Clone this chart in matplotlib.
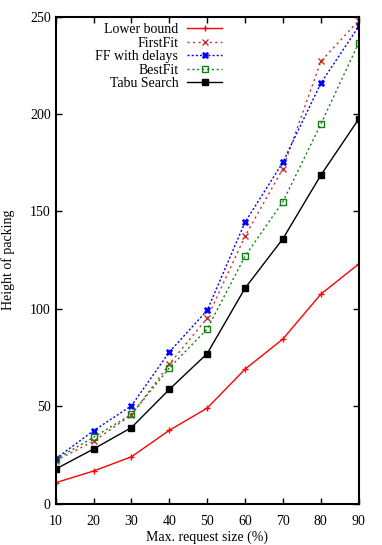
import matplotlib
matplotlib.use("Agg")
import matplotlib.pyplot as plt

plt.rcParams['font.family'] = ['Liberation Serif', 'DejaVu Serif']
plt.rcParams['font.size'] = 10

x = [10, 20, 30, 40, 50, 60, 70, 80, 90]
lower_bound = [10.7, 16.7, 24.0, 37.6, 49.0, 69.0, 84.5, 107.5, 123.0]
first_fit = [22.0, 32.0, 45.5, 71.6, 95.2, 137.3, 172.0, 227.0, 248.0]
ff_delays = [23.0, 37.4, 50.2, 77.8, 99.2, 144.5, 175.3, 215.8, 245.0]
best_fit = [22.7, 34.0, 45.8, 69.6, 89.6, 127.0, 155.0, 194.8, 236.5]
tabu = [17.7, 28.0, 39.0, 58.6, 77.0, 110.6, 136.0, 168.6, 197.4]

xticks = [10, 20, 30, 40, 50, 60, 70, 80, 90]
yticks = [0, 50, 100, 150, 200, 250]

fig = plt.figure(figsize=(3.82, 5.45), dpi=100)
ax = fig.add_axes([0.1458, 0.0761, 0.7932, 0.8933])

ax.plot(x, lower_bound, color='#ff0000', lw=1.0, ls='-', marker='+', ms=5, mew=1.0, label='Lower bound')
ax.plot(x, first_fit, color='#c03030', lw=1.0, ls=(0, (1.5, 2.5)), marker='x', ms=4.5, mew=1.0, label='FirstFit')
ax.plot(x, ff_delays, color='#0000ff', lw=1.0, ls=(0, (1.5, 1.5)), marker='X', ms=5, mew=0.5, label='FF with delays')
ax.plot(x, best_fit, color='#108010', lw=1.0, ls=(0, (1.5, 2.0)), marker='s', ms=5, mew=1.0,
        mfc='none', label='BestFit')
ax.plot(x, tabu, color='#000000', lw=1.0, ls='-', marker='s', ms=4.5, label='Tabu Search')

ax.set_xlim(10, 90)
ax.set_ylim(0, 250)
ax.set_xticks(xticks)
ax.set_yticks(yticks)
ax.tick_params(direction='in', top=True, right=True, length=4, width=1, labelsize=10)
ax.tick_params(axis='x', pad=8)
for s in ax.spines.values():
    s.set_linewidth(1.5)

ax.set_xlabel('Max. request size (%)', fontsize=10, labelpad=2)
ax.set_ylabel('Height of packing', fontsize=10, labelpad=11)

leg = ax.legend(loc='upper right', markerfirst=False, frameon=False, fontsize=10,
                handlelength=2.5, handletextpad=0.65, labelspacing=0.04,
                borderpad=0.0, borderaxespad=0.0,
                bbox_to_anchor=(0.549, 0.987))
for t in leg.get_texts():
    t.set_ha('right')
leg._legend_box.align = 'right'

fig.savefig('out.png', dpi=100)
